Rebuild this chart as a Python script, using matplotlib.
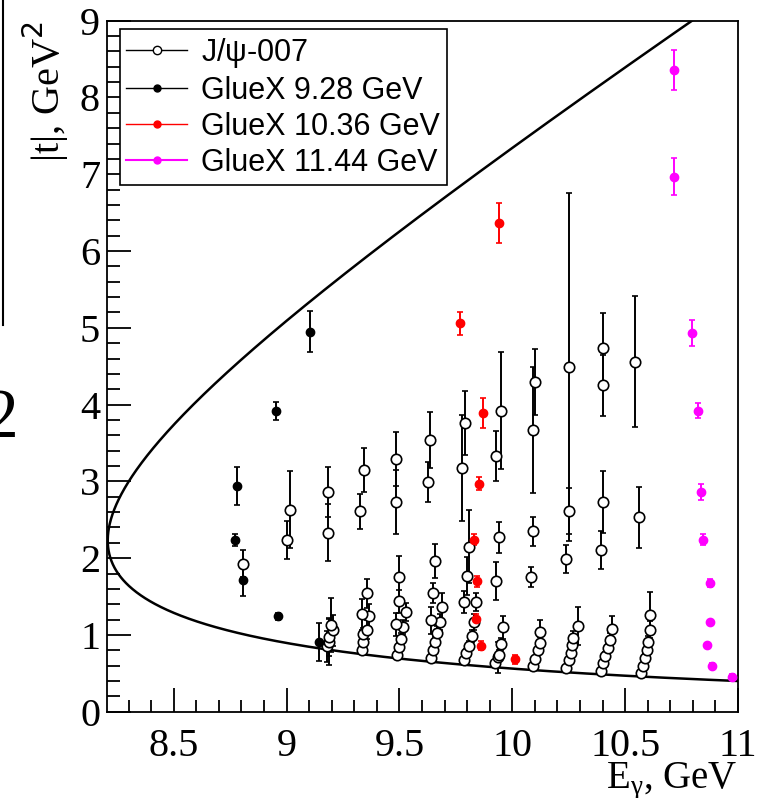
#!/usr/bin/env python

import numpy as np
import matplotlib
matplotlib.use('Agg')
import matplotlib.pyplot as plt
from matplotlib.lines import Line2D
from matplotlib.ticker import MultipleLocator, FuncFormatter

# J/psi-007 (open circles)
jpsi_E = [8.806, 9.014, 9.004, 9.184, 9.184, 9.345, 9.324, 9.487, 9.487, 9.636, 9.627,
          9.790, 9.778, 9.948, 9.929, 10.100, 10.091, 10.251, 10.402, 10.402, 10.545,
          10.402, 10.391, 10.251, 10.240, 10.562, 9.939, 9.929, 10.091, 10.082, 9.808,
          # low clusters
          9.180, 9.186, 9.189, 9.206, 9.196,
          9.334, 9.340, 9.337, 9.356, 9.367, 9.335, 9.356,
          9.490, 9.497, 9.505, 9.517, 9.487, 9.527, 9.496, 9.497,
          9.638, 9.647, 9.656, 9.665, 9.678, 9.638, 9.687, 9.647, 9.656,
          9.787, 9.797, 9.808, 9.820, 9.830, 9.841, 9.787, 9.799,
          9.924, 9.935, 9.943, 9.950, 9.957,
          10.091, 10.102, 10.112, 10.122, 10.122,
          10.240, 10.250, 10.260, 10.265, 10.271, 10.291,
          10.393, 10.402, 10.412, 10.423, 10.431, 10.443,
          10.572, 10.580, 10.587, 10.595, 10.602, 10.611, 10.611]
jpsi_t = [1.93, 2.63, 2.24, 2.86, 2.33, 3.15, 2.61, 3.29, 2.73, 3.54, 2.99,
          3.76, 3.18, 3.92, 3.33, 4.29, 3.67, 4.49, 4.74, 4.25, 4.56,
          2.73, 2.11, 2.61, 1.99, 2.53, 2.27, 1.70, 2.35, 1.75, 2.15,
          0.85, 0.91, 0.97, 1.06, 1.13,
          0.80, 0.91, 1.01, 1.07, 1.25, 1.27, 1.54,
          0.74, 0.84, 0.95, 1.10, 1.14, 1.30, 1.44, 1.75,
          0.70, 0.80, 0.91, 1.03, 1.17, 1.19, 1.36, 1.54, 1.96,
          0.67, 0.77, 0.86, 0.99, 1.17, 1.43, 1.43, 1.77,
          0.63, 0.71, 0.74, 0.88, 1.10,
          0.59, 0.69, 0.80, 0.90, 1.04,
          0.57, 0.67, 0.77, 0.87, 0.96, 1.12,
          0.53, 0.63, 0.73, 0.83, 0.94, 1.08,
          0.50, 0.60, 0.70, 0.80, 0.91, 1.06, 1.26]
jpsi_err = [0.17, 0.50, 0.25, 0.33, 0.37, 0.29, 0.23, 0.35, 0.42, 0.36, 0.26,
            0.42, 0.69, 0.76, 0.33, 0.43, 0.82, 2.27, 0.45, 0.40, 0.85,
            0.40, 0.25, 0.30, 0.18, 0.40, 0.20, 0.25, 0.19, 0.13, 0.48,
            0.20, 0.30, 0.25, 0.20, 0.35,
            0.04, 0.06, 0.08, 0.12, 0.15, 0.20, 0.19,
            0.04, 0.05, 0.07, 0.09, 0.15, 0.12, 0.15, 0.28,
            0.04, 0.05, 0.06, 0.08, 0.10, 0.18, 0.18, 0.13, 0.22,
            0.04, 0.05, 0.06, 0.08, 0.10, 0.12, 0.14, 0.25,
            0.04, 0.20, 0.06, 0.08, 0.15,
            0.03, 0.04, 0.05, 0.07, 0.16,
            0.03, 0.04, 0.05, 0.06, 0.09, 0.25,
            0.03, 0.04, 0.05, 0.06, 0.08, 0.17,
            0.03, 0.04, 0.05, 0.06, 0.08, 0.12, 0.30]

# GlueX 9.28 GeV
gx928_E = [8.773, 8.782, 8.805, 8.952, 8.962, 9.105, 9.145]
gx928_t = [2.24, 2.94, 1.71, 3.92, 1.24, 4.95, 0.91]
gx928_err = [0.08, 0.25, 0.20, 0.12, 0.05, 0.27, 0.25]

# GlueX 10.36 GeV
gx1036_E = [9.769, 9.943, 9.870, 9.851, 9.830, 9.842, 9.841, 9.860, 10.012]
gx1036_t = [5.06, 6.37, 3.89, 2.97, 2.24, 1.70, 1.21, 0.86, 0.68]
gx1036_err = [0.15, 0.26, 0.20, 0.085, 0.07, 0.07, 0.06, 0.06, 0.06]

# GlueX 11.44 GeV
gx1144_E = [10.715, 10.715, 10.795, 10.824, 10.835, 10.844, 10.875, 10.875, 10.864, 10.886, 10.975]
gx1144_t = [8.36, 6.97, 4.93, 3.92, 2.86, 2.24, 1.68, 1.17, 0.87, 0.60, 0.45]
gx1144_err = [0.26, 0.245, 0.17, 0.10, 0.10, 0.07, 0.05, 0.02, 0.02, 0.04, 0.04]

# kinematic limits for gamma p -> J/psi p
M_p = 0.938272
M_J = 3.0969
E_thr = ((M_J + M_p)**2 - M_p**2) / (2 * M_p)
u = np.linspace(0, 1, 600)
E = E_thr + (11.0 - E_thr) * u**2
s = M_p**2 + 2 * M_p * E
rs = np.sqrt(s)
k = (s - M_p**2) / (2 * rs)
EJ = (s + M_J**2 - M_p**2) / (2 * rs)
q = np.sqrt(np.clip(EJ**2 - M_J**2, 0, None))
tmin = -(M_J**2 - 2 * k * (EJ - q))
tmax = -(M_J**2 - 2 * k * (EJ + q))

serif = 'Liberation Serif'
sans = 'Liberation Sans'

fig = plt.figure(figsize=(7.6, 7.98), dpi=100)
ax = fig.add_axes([107 / 760, 1 - 711.7 / 798, (738 - 107) / 760, (711.7 - 20.7) / 798])

ax.plot(np.concatenate([E[::-1], E]), np.concatenate([tmax[::-1], tmin]),
        color='black', lw=1.8, zorder=2)

eb = dict(ls='none', elinewidth=1.4, capsize=2.3, capthick=1.2, zorder=3)
ax.errorbar(jpsi_E, jpsi_t, yerr=jpsi_err, fmt='o', ms=7.5, mfc='white', mec='black',
            mew=1.2, ecolor='black', **eb)
ax.errorbar(gx928_E, gx928_t, yerr=gx928_err, fmt='o', ms=6, mfc='black', mec='black',
            ecolor='black', **eb)
ax.errorbar(gx1036_E, gx1036_t, yerr=gx1036_err, fmt='o', ms=6, mfc='red', mec='red',
            ecolor='red', **eb)
ax.errorbar(gx1144_E, gx1144_t, yerr=gx1144_err, fmt='o', ms=6, mfc='magenta', mec='magenta',
            ecolor='magenta', **eb)

ax.set_xlim(8.2045, 11.0)
ax.set_ylim(0, 9)

ax.xaxis.set_major_locator(MultipleLocator(0.5))
ax.xaxis.set_minor_locator(MultipleLocator(0.1))
ax.yaxis.set_major_locator(MultipleLocator(1))
ax.yaxis.set_minor_locator(MultipleLocator(0.2))
ax.xaxis.set_major_formatter(FuncFormatter(lambda v, p: '%g' % v))
ax.yaxis.set_major_formatter(FuncFormatter(lambda v, p: '%g' % v))
ax.tick_params(which='both', direction='in', top=False, right=False, width=1.3)
ax.tick_params(which='major', length=17)
ax.tick_params(which='minor', length=9)
ax.tick_params(axis='x', which='major', pad=12)
ax.tick_params(axis='y', which='major', pad=5)
for lab in ax.get_xticklabels() + ax.get_yticklabels():
    lab.set_fontfamily(serif)
    lab.set_fontsize(29)
for sp in ax.spines.values():
    sp.set_linewidth(1.3)

ax.set_ylabel('|t|, GeV$^2$', fontfamily=serif, fontsize=29, loc='top', labelpad=6)
ax.set_xlabel(r'E$_{\mathregular{\gamma}}$, GeV', fontfamily=serif, fontsize=28,
              loc='right', labelpad=-4)

handles = [
    Line2D([], [], color='black', lw=1, marker='o', ms=6, mfc='white', mec='black'),
    Line2D([], [], color='black', lw=1, marker='o', ms=5, mfc='black', mec='black'),
    Line2D([], [], color='red', lw=1, marker='o', ms=5, mfc='red', mec='red'),
    Line2D([], [], color='magenta', lw=1.5, marker='o', ms=5, mfc='magenta', mec='magenta'),
]
labels = [r'J/$\mathregular{\psi}$-007', 'GlueX 9.28 GeV', 'GlueX 10.36 GeV', 'GlueX 11.44 GeV']
leg = ax.legend(handles, labels, loc='upper left', bbox_to_anchor=(0.02, 0.988),
                prop={'family': sans, 'size': 22}, frameon=True, fancybox=False,
                edgecolor='black', framealpha=1, borderpad=0.22, labelspacing=0.2,
                handlelength=2.0, handletextpad=0.45, borderaxespad=0)
leg.get_frame().set_linewidth(1.2)

# pieces of the neighbouring panel at the left edge
fig.add_artist(Line2D([3 / 760, 3 / 760], [1.0, 1 - 325 / 798], color='black', lw=1.5))
fig.text(19 / 760, 1 - 420 / 798, '2', ha='right', va='center', fontfamily=serif,
         fontsize=50)

fig.savefig('out.png', dpi=100)
